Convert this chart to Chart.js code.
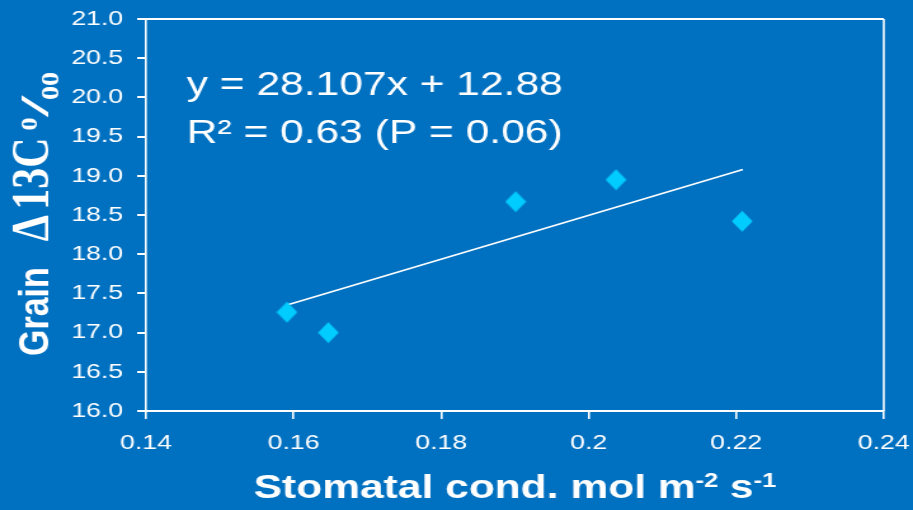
<!DOCTYPE html>
<html>
<head>
<meta charset="utf-8">
<script src="https://cdn.jsdelivr.net/npm/chart.js@4.4.1/dist/chart.umd.min.js"></script>
<style>
  html, body { margin: 0; padding: 0; background: #0070c0; overflow: hidden; }
  /* the source picture is stretched sideways, so the whole chart is drawn narrow and widened */
  #wrap { width: 719px; height: 510px; transform: scale(1.2698, 1); transform-origin: 0 0; }
</style>
</head>
<body>
<div id="wrap"><canvas id="c"></canvas></div>
<script>
// values
const condX = [0.1591, 0.1647, 0.1901, 0.2037, 0.2208];
const grainY = [17.26, 17.00, 18.67, 18.95, 18.42];
const trendX = [0.159, 0.2209];
const trendY = [17.35, 19.08];
const xTicks = [0.14, 0.16, 0.18, 0.20, 0.22, 0.24];
const xTickLabels = ['0.14', '0.16', '0.18', '0.2', '0.22', '0.24'];
const yTicks = [16.0, 16.5, 17.0, 17.5, 18.0, 18.5, 19.0, 19.5, 20.0, 20.5, 21.0];
const yTickLabels = ['16.0', '16.5', '17.0', '17.5', '18.0', '18.5', '19.0', '19.5', '20.0', '20.5', '21.0'];
const eqLines = ['y = 28.107x + 12.88', 'R\u00b2 = 0.63 (P = 0.06)'];

const SANS = '"Liberation Sans", Arial, sans-serif';
const SERIF = '"Liberation Serif", "Times New Roman", serif';
const WHITE = '#ffffff';

// diamond marker, narrowed so it comes out square after the sideways stretch
const diamond = (() => {
  const w = 17, h = 22, cv = document.createElement('canvas');
  cv.width = w; cv.height = h;
  const c = cv.getContext('2d');
  c.fillStyle = '#00ccff';
  c.beginPath();
  c.moveTo(w / 2, 0.5); c.lineTo(w - 0.3, h / 2); c.lineTo(w / 2, h - 0.5); c.lineTo(0.3, h / 2);
  c.closePath(); c.fill();
  return cv;
})();

// text runs: own font, baseline shift, extra gap after, optional widening
const xTitle = [
  { t: 'Stomatal cond. mol m', f: 'bold 33.5px ' + SANS, dy: 0 },
  { t: '-2', f: 'bold 20px ' + SANS, dy: -11 },
  { t: ' s', f: 'bold 33.5px ' + SANS, dy: 0 },
  { t: '-1', f: 'bold 20px ' + SANS, dy: -11 },
];
const yTitle = [
  { t: 'Grain', f: 'bold 34px ' + SANS, dy: 0, gap: 26 },
  { t: '\u0394', f: 'bold 42px ' + SERIF, dy: 0, gap: 5 },
  { t: '13C', f: 'bold 42px ' + SERIF, dy: 0, gap: 7 },
  { t: 'o', f: 'bold 26px ' + SERIF, dy: -9, gap: 1 },
  { t: '/', f: 'bold 32px ' + SERIF, dy: 0, gap: -4, sx: 2.3 },
  { t: 'oo', f: 'bold 28px ' + SERIF, dy: 8 },
];

function drawRuns(ctx, runs, x, y, align) {
  let total = 0;
  runs.forEach(r => {
    ctx.font = r.f;
    r.w = ctx.measureText(r.t).width * (r.sx || 1) + (r.gap || 0);
    total += r.w;
  });
  let px = align === 'center' ? x - total / 2 : x;
  runs.forEach(r => {
    ctx.font = r.f;
    ctx.save();
    ctx.translate(px, y + r.dy);
    ctx.scale(r.sx || 1, 1);
    ctx.fillText(r.t, 0, 0);
    ctx.restore();
    px += r.w;
  });
  return total;
}

const texts = {
  id: 'texts',
  afterDraw(chart) {
    const { ctx, chartArea: a } = chart;
    ctx.save();
    // top and right sides of the frame
    ctx.strokeStyle = WHITE;
    ctx.lineWidth = 2;
    ctx.beginPath();
    ctx.moveTo(a.left - 7, a.top); ctx.lineTo(a.right, a.top);
    ctx.stroke();
    ctx.lineWidth = 1.6;
    ctx.beginPath();
    ctx.moveTo(a.right, a.top); ctx.lineTo(a.right, a.bottom);
    ctx.stroke();

    ctx.fillStyle = WHITE;
    ctx.textBaseline = 'alphabetic';
    ctx.textAlign = 'left';
    ctx.font = '33.5px ' + SANS;
    ctx.fillText(eqLines[0], 147, 95);
    ctx.fillText(eqLines[1], 147, 143);

    drawRuns(ctx, xTitle, (a.left + a.right) / 2, 498, 'center');

    // y title, turned to read bottom to top
    ctx.translate(37.8, 356);
    ctx.rotate(-Math.PI / 2);
    drawRuns(ctx, yTitle, 0, 0, 'left');
    ctx.restore();
  }
};

const tickGrid = { display: true, drawOnChartArea: false, drawTicks: true, color: WHITE };

new Chart(document.getElementById('c'), {
  type: 'scatter',
  data: {
    datasets: [
      {
        label: 'trend', data: trendX.map((x, i) => ({ x, y: trendY[i] })),
        showLine: true, borderColor: WHITE, borderWidth: 1.6, pointRadius: 0, order: 2,
      },
      {
        label: 'grain', data: condX.map((x, i) => ({ x, y: grainY[i] })),
        pointStyle: diamond, pointRadius: 10, order: 1,
      },
    ],
  },
  options: {
    responsive: true, maintainAspectRatio: false, animation: false,
    layout: { padding: { top: 19, right: 23, left: 0, bottom: 0 } },
    plugins: { legend: { display: false }, tooltip: { enabled: false } },
    scales: {
      x: {
        type: 'linear', min: 0.14, max: 0.24,
        afterBuildTicks: s => { s.ticks = xTicks.map(v => ({ value: v })); },
        afterFit: s => { s.height = 99; s.paddingLeft = 0; s.paddingRight = 0; },
        grid: { ...tickGrid, lineWidth: 1.6, tickLength: 8 },
        border: { display: true, color: WHITE, width: 2 },
        ticks: { color: WHITE, padding: 12, maxRotation: 0, font: { family: SANS, size: 21 },
          callback: (v, i) => xTickLabels[i] },
      },
      y: {
        type: 'linear', min: 16, max: 21,
        afterBuildTicks: s => { s.ticks = yTicks.map(v => ({ value: v })); },
        afterFit: s => { s.width = 115; s.paddingTop = 0; s.paddingBottom = 0; },
        grid: { ...tickGrid, lineWidth: 2, tickLength: 7 },
        border: { display: true, color: WHITE, width: 1.6 },
        ticks: { color: WHITE, padding: 11, font: { family: SANS, size: 21 },
          callback: (v, i) => yTickLabels[i] },
      },
    },
  },
  plugins: [texts],
});
</script>
</body>
</html>
